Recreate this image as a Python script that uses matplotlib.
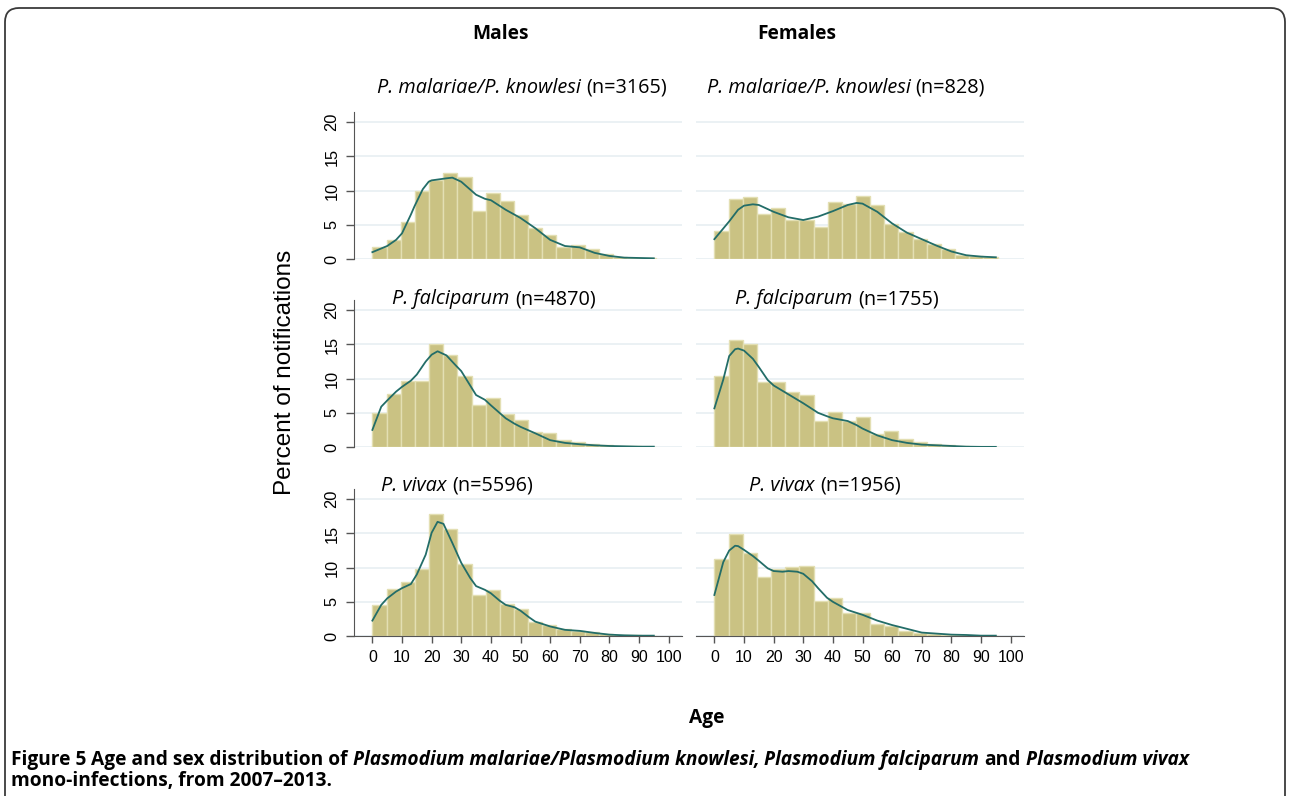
import numpy as np
import matplotlib
matplotlib.use("Agg")
import matplotlib.pyplot as plt
from matplotlib.patches import FancyBboxPatch
from matplotlib.transforms import IdentityTransform

# Histogram heights (percent), 20 bins from age 0 upwards
male_malariae = [1.8, 2.8, 5.4, 10.0, 11.6, 12.6, 12.0, 7.0, 9.6, 8.5,
                 6.4, 4.5, 3.5, 1.75, 2.0, 1.4, 0.7, 0.25, 0.15, 0.1]
female_malariae = [4.1, 8.8, 9.1, 6.6, 7.5, 5.7, 5.7, 4.7, 8.3, 8.0,
                   9.2, 7.85, 5.1, 3.9, 2.9, 2.2, 1.4, 0.6, 0.45, 0.3]
male_falciparum = [4.9, 7.8, 9.7, 9.7, 15.1, 13.5, 10.4, 6.2, 7.1, 4.8,
                   4.0, 2.2, 2.0, 1.0, 0.75, 0.4, 0.25, 0.15, 0.1, 0.05]
female_falciparum = [10.4, 15.7, 15.0, 9.5, 9.5, 8.0, 7.6, 3.8, 5.1, 3.8,
                     4.4, 1.9, 2.3, 1.2, 0.75, 0.4, 0.25, 0.1, 0.05, 0.05]
male_vivax = [4.6, 6.9, 7.85, 9.8, 17.9, 15.7, 10.5, 6.0, 6.75, 4.65,
              4.0, 2.0, 1.55, 1.0, 0.75, 0.55, 0.3, 0.2, 0.1, 0.05]
female_vivax = [11.3, 14.85, 12.2, 8.7, 9.8, 10.1, 10.3, 5.15, 5.6, 3.3,
                3.3, 1.8, 1.5, 0.75, 0.45, 0.25, 0.2, 0.1, 0.05, 0.05]

# Kernel density curves (age, percent)
mm_age = [0, 5, 8, 10, 13, 14.2, 17, 19, 20, 25, 27, 30, 35, 38, 40, 45, 50, 55, 60, 65, 70, 75, 80, 85, 90, 95]
mm_kde = [1.0, 1.9, 2.8, 3.75, 6.5, 7.7, 10.2, 11.3, 11.5, 11.8, 11.9, 11.3, 9.4, 8.8, 8.6, 7.2, 6.0, 4.5, 2.8, 1.9, 1.7, 0.9, 0.45, 0.2, 0.15, 0.1]
fm_age = [0, 5, 8, 10, 13, 15, 18, 20, 25, 30, 35, 40, 45, 48, 50, 55, 60, 65, 70, 75, 80, 85, 90, 95]
fm_kde = [2.9, 5.5, 7.2, 7.8, 8.0, 7.9, 7.3, 6.9, 6.1, 5.7, 6.2, 7.0, 7.9, 8.2, 8.1, 6.9, 5.2, 3.85, 2.9, 1.95, 1.1, 0.55, 0.35, 0.25]
mf_age = [0, 3, 5, 8, 10, 13, 15, 18, 20, 22, 25, 28, 30, 35, 38, 40, 45, 48, 50, 55, 60, 65, 70, 75, 80, 85, 90, 95]
mf_kde = [2.5, 5.9, 6.8, 8.1, 8.8, 9.7, 10.6, 12.5, 13.5, 14.0, 13.4, 12.0, 11.1, 7.6, 6.9, 6.1, 4.2, 3.4, 2.95, 2.0, 1.0, 0.6, 0.4, 0.25, 0.15, 0.1, 0.05, 0.05]
ff_age = [0, 3, 5, 7, 8, 10, 13, 15, 18, 20, 25, 30, 35, 38, 40, 45, 48, 50, 55, 60, 65, 70, 75, 80, 85, 90, 95]
ff_kde = [5.65, 9.85, 13.3, 14.3, 14.4, 14.1, 12.9, 11.7, 9.8, 9.0, 7.7, 6.4, 5.0, 4.5, 4.2, 3.8, 3.2, 2.7, 1.7, 1.0, 0.6, 0.35, 0.25, 0.15, 0.05, 0.02, 0.02]
mv_age = [0, 3, 5, 8, 10, 13, 15, 18, 20, 22, 24, 27, 30, 33, 35, 38, 40, 43, 45, 48, 50, 53, 55, 60, 65, 70, 75, 80, 85, 90, 95]
mv_kde = [2.25, 4.55, 5.5, 6.5, 7.0, 7.6, 9.0, 11.9, 15.1, 16.7, 16.4, 13.6, 10.7, 8.5, 7.3, 6.75, 6.25, 5.15, 4.55, 4.2, 3.7, 2.7, 2.1, 1.4, 0.9, 0.75, 0.45, 0.2, 0.1, 0.05, 0.05]
fv_age = [0, 3, 5, 7, 8, 10, 13, 15, 18, 20, 23, 25, 28, 30, 33, 35, 38, 40, 45, 50, 55, 60, 65, 70, 75, 80, 85, 90, 95]
fv_kde = [6.0, 10.8, 12.5, 13.2, 13.15, 12.6, 11.7, 11.0, 9.9, 9.5, 9.4, 9.5, 9.4, 9.1, 8.0, 7.0, 5.6, 5.0, 3.8, 3.1, 2.25, 1.6, 1.05, 0.5, 0.35, 0.2, 0.15, 0.05, 0.05]

titles = [["P. malariae/P. knowlesi", "(n=3165)", "P. malariae/P. knowlesi", "(n=828)"],
          ["P. falciparum", "(n=4870)", "P. falciparum", "(n=1755)"],
          ["P. vivax", "(n=5596)", "P. vivax", "(n=1956)"]]

bars = [[male_malariae, female_malariae],
        [male_falciparum, female_falciparum],
        [male_vivax, female_vivax]]
curves = [[(mm_age, mm_kde), (fm_age, fm_kde)],
          [(mf_age, mf_kde), (ff_age, ff_kde)],
          [(mv_age, mv_kde), (fv_age, fv_kde)]]

W, H = 1290, 796
fig = plt.figure(figsize=(W / 100, H / 100), dpi=100)
renderer = fig.canvas.get_renderer()

BAR_COLOR = '#cac283'
EDGE_COLOR = '#e3dfb3'
LINE_COLOR = '#236d68'
GRID_COLOR = '#e7eff2'
AXIS_COLOR = '#555555'
TXT_FONT = 'Open Sans'

bin_w = 4.78
col_x = [354, 696]
row_top = [112, 300, 489]
row_bot = [259, 447, 636]
ax_w = 328


def rich_text(xc, y, parts, size, ha='center'):
    # parts: (text, weight, style, space_before); x/y in pixels from top-left
    space = fig.text(0, 0, 'x x', fontsize=size, family=TXT_FONT)
    nospace = fig.text(0, 0, 'xx', fontsize=size, family=TXT_FONT)
    gap = space.get_window_extent(renderer).width - nospace.get_window_extent(renderer).width
    space.remove()
    nospace.remove()
    items = []
    total = 0
    for s, w, st, sp in parts:
        t = fig.text(0, 1 - y / H, s, fontsize=size, fontweight=w, fontstyle=st,
                     family=TXT_FONT, va='baseline', ha='left')
        wd = t.get_window_extent(renderer).width
        if sp and items:
            total += gap
        items.append((t, total))
        total += wd
    x0 = xc - total / 2 if ha == 'center' else xc
    for t, off in items:
        t.set_x((x0 + off) / W)


centers = [[522, 846], [494, 837], [457, 825]]
title_y = [93, 304, 491]

for r in range(3):
    for c in range(2):
        ax = fig.add_axes([col_x[c] / W, 1 - row_bot[r] / H, ax_w / W, (row_bot[r] - row_top[r]) / H])
        ages = np.arange(20) * bin_w
        ax.bar(ages, bars[r][c], width=bin_w, align='edge', color=BAR_COLOR,
               edgecolor=EDGE_COLOR, linewidth=1.0, zorder=2)
        ax.plot(curves[r][c][0], curves[r][c][1], color=LINE_COLOR, lw=1.3, zorder=3)
        ax.set_xlim(-6.2, 104.5)
        ax.set_ylim(0, 21.5)
        ax.set_yticks([0, 5, 10, 15, 20])
        ax.grid(axis='y', color=GRID_COLOR, lw=1.2, zorder=0)
        ax.set_axisbelow(True)
        for s in ['top', 'right']:
            ax.spines[s].set_visible(False)
        ax.spines['left'].set_visible(c == 0)
        ax.spines['left'].set_color(AXIS_COLOR)
        ax.spines['bottom'].set_visible(r == 2)
        ax.spines['bottom'].set_color(AXIS_COLOR)
        if c == 0:
            ax.tick_params(axis='y', length=6, width=1, color=AXIS_COLOR, pad=4.5,
                           labelsize=11.8, labelrotation=90)
            for lab in ax.get_yticklabels():
                lab.set_va('center')
                lab.set_family('Liberation Sans')
        else:
            ax.tick_params(axis='y', length=0, labelleft=False)
        if r == 2:
            ax.set_xticks(range(0, 101, 10))
            ax.tick_params(axis='x', length=5, width=1, color=AXIS_COLOR, pad=5,
                           labelsize=11.5)
            for lab in ax.get_xticklabels():
                lab.set_family('Liberation Sans')
        else:
            ax.set_xticks([])
        rich_text(centers[r][c], title_y[r],
                  [(titles[r][2 * c], 'normal', 'italic', False),
                   (titles[r][2 * c + 1], 'normal', 'normal', True)], 14.3)

# Column headers and labels
fig.text(500 / W, 1 - 39 / H, 'Males', fontsize=13.8, fontweight='bold', family=TXT_FONT,
         ha='center', va='baseline')
fig.text(797 / W, 1 - 39 / H, 'Females', fontsize=13.8, fontweight='bold', family=TXT_FONT,
         ha='center', va='baseline')
fig.text(707 / W, 1 - 718 / H, 'Age', fontsize=13.8, fontweight='bold', family=TXT_FONT,
         ha='center', va='center')
fig.text(285 / W, 1 - 372 / H, 'Percent of notifications', fontsize=17.5, rotation=90,
         family='Liberation Sans', ha='center', va='center')

# Caption
rich_text(11, 765, [("Figure 5", 'bold', 'normal', False),
                    ("Age and sex distribution of", 'bold', 'normal', True),
                    ("Plasmodium malariae/Plasmodium knowlesi,", 'bold', 'italic', True),
                    ("Plasmodium falciparum", 'bold', 'italic', True),
                    ("and", 'bold', 'normal', True),
                    ("Plasmodium vivax", 'bold', 'italic', True)], 13.8, ha='left')
rich_text(11, 786, [("mono-infections, from 2007\u20132013.", 'bold', 'normal', False)], 13.8, ha='left')

# Rounded frame around the figure
frame = FancyBboxPatch((5, -40), 1280, H - 8 + 40, boxstyle="round,pad=0,rounding_size=14",
                       transform=IdentityTransform(), fill=False, ec='#3a3a3a', lw=1.3)
fig.patches.append(frame)

fig.savefig('out.png', dpi=100)
